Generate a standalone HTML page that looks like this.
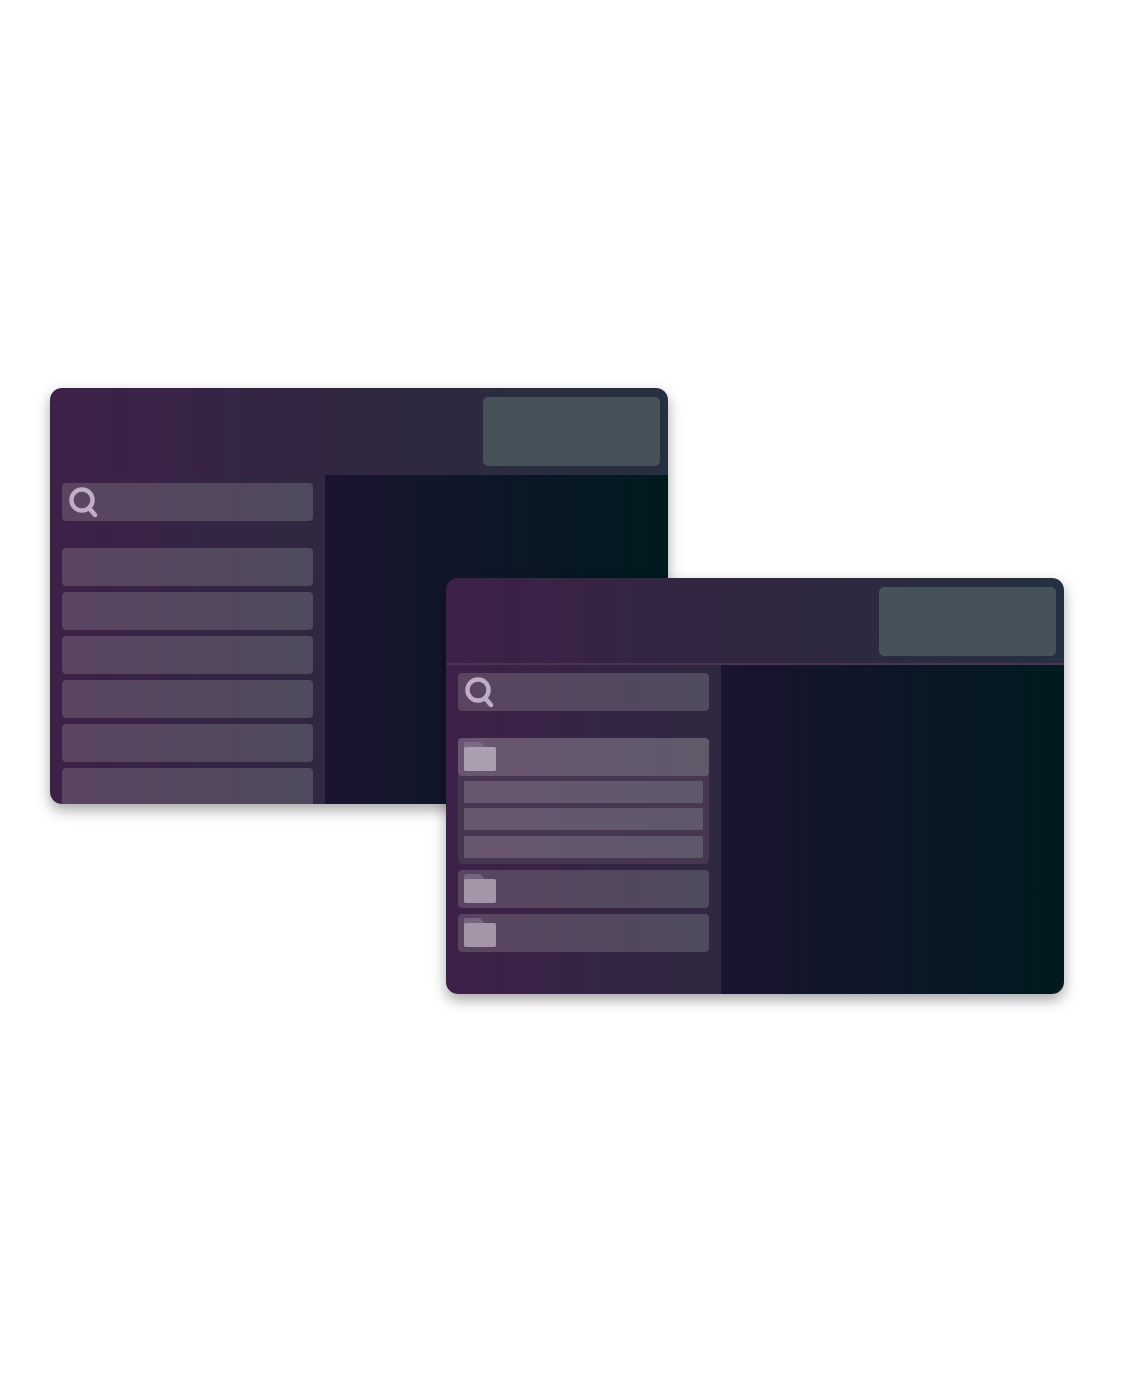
<!DOCTYPE html>
<html><head><style>
body{margin:0;width:1128px;height:1395px;background:#fff;position:relative;overflow:hidden;font-family:"Liberation Sans",sans-serif}
.win{position:absolute;width:618px;height:416px;border-radius:12px;overflow:hidden;box-shadow:0 6px 14px rgba(0,0,0,.35)}
.hdr{position:absolute;left:0;top:0;width:618px;height:87px;background:linear-gradient(90deg,#3d2148,#2f2840 55%,#253040)}
.btn{position:absolute;left:433px;top:9px;width:177px;height:69px;border-radius:5px;background:#465259}
.side{position:absolute;left:0;top:87px;width:275px;height:329px;background:linear-gradient(90deg,#3d2148,#2f2840)}
.main{position:absolute;left:275px;top:87px;width:343px;height:329px;background:linear-gradient(90deg,#1a1430,#001a1e)}
.it{position:absolute;left:12px;width:251px;height:38px;border-radius:4px;background:linear-gradient(90deg,#5a4560,#4f4a5d)}
.srch svg{position:absolute;left:5px;top:2px}
.grp{position:absolute;left:12px;width:251px;height:126px;border-radius:4px;background:#463650}
.sub{position:absolute;left:6px;width:239px;height:22px;border-radius:2px;background:linear-gradient(90deg,#69566f,#5e5869)}
.fold{position:absolute;left:6px;top:4px}
</style></head><body>
<div class="win" style="left:50px;top:388px">
 <div class="hdr"><div class="btn"></div></div>
 <div class="side">
  <div class="it srch" style="top:8px"><svg width="34" height="34"><circle cx="15" cy="15" r="10.5" fill="none" stroke="#bfaec5" stroke-width="4.5"/><line x1="22" y1="23" x2="28" y2="30" stroke="#bfaec5" stroke-width="4.5" stroke-linecap="round"/></svg></div>
  <div class="it" style="top:73px"></div>
  <div class="it" style="top:117px"></div>
  <div class="it" style="top:161px"></div>
  <div class="it" style="top:205px"></div>
  <div class="it" style="top:249px"></div>
  <div class="it" style="top:293px"></div>
 </div>
 <div class="main"></div>
</div>
<div class="win" style="left:446px;top:578px">
 <div class="hdr" style="border-bottom:2px solid #4a3552;height:85px"><div class="btn"></div></div>
 <div class="side">
  <div class="it srch" style="top:8px"><svg width="34" height="34"><circle cx="15" cy="15" r="10.5" fill="none" stroke="#bfaec5" stroke-width="4.5"/><line x1="22" y1="23" x2="28" y2="30" stroke="#bfaec5" stroke-width="4.5" stroke-linecap="round"/></svg></div>
  <div class="grp" style="top:73px">
   <div class="it" style="left:0;top:0;background:linear-gradient(90deg,#6a5570,#5f5a6a)"><svg class="fold" width="32" height="30"><path d="M0 2a2 2 0 0 1 2-2h14l4 4v4H0z" fill="#7d6a85"/><rect x="0" y="5" width="32" height="24" rx="2" fill="#aa9fb0"/></svg></div>
   <div class="sub" style="top:43px"></div>
   <div class="sub" style="top:70px"></div>
   <div class="sub" style="top:98px"></div>
  </div>
  <div class="it" style="top:205px"><svg class="fold" width="32" height="30"><path d="M0 2a2 2 0 0 1 2-2h14l4 4v4H0z" fill="#76657e"/><rect x="0" y="5" width="32" height="24" rx="2" fill="#a496a8"/></svg></div>
  <div class="it" style="top:249px"><svg class="fold" width="32" height="30"><path d="M0 2a2 2 0 0 1 2-2h14l4 4v4H0z" fill="#76657e"/><rect x="0" y="5" width="32" height="24" rx="2" fill="#a496a8"/></svg></div>
 </div>
 <div class="main"></div>
</div>
</body></html>
